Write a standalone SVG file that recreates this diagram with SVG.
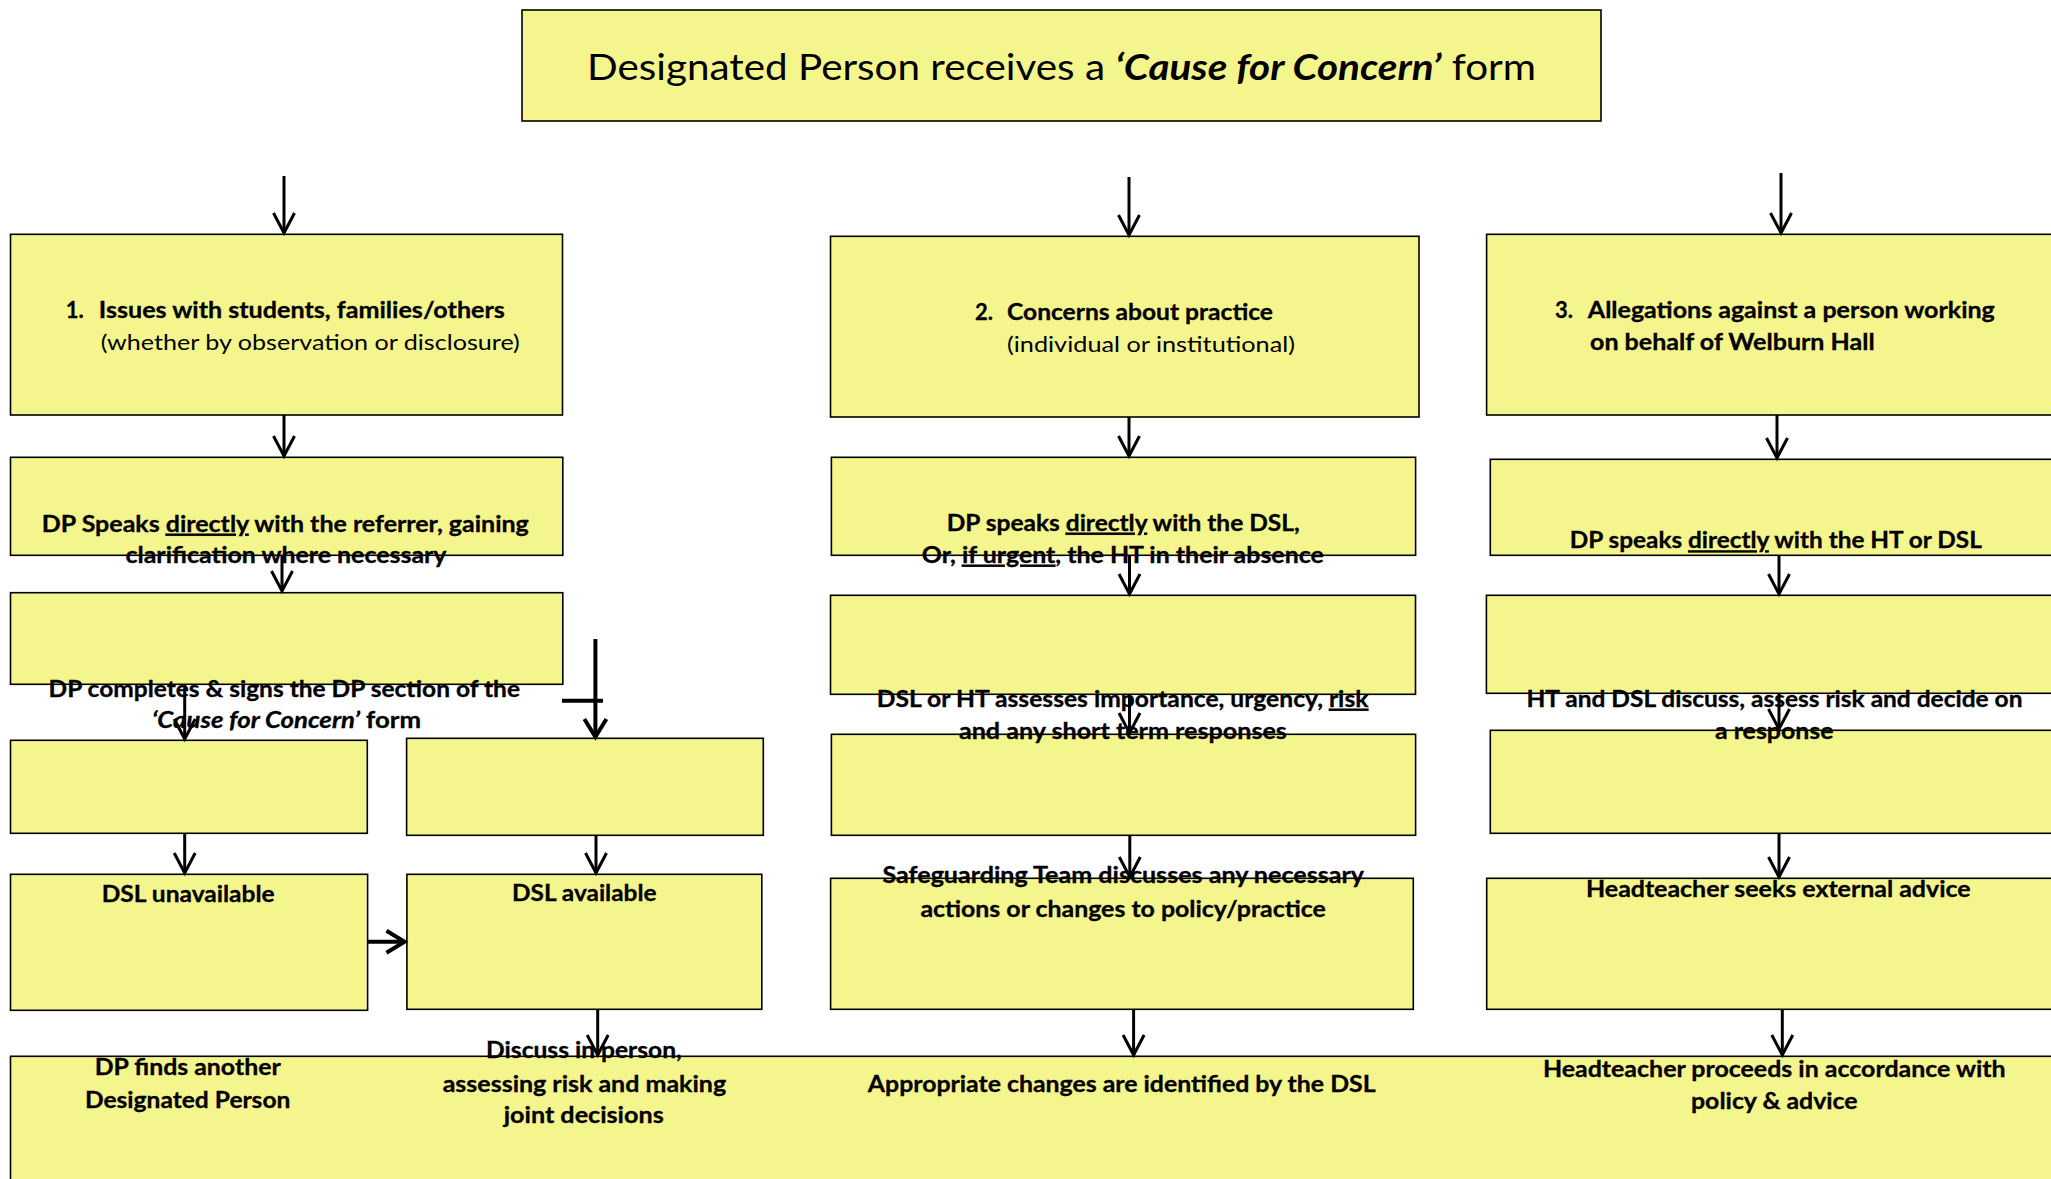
<svg xmlns="http://www.w3.org/2000/svg" width="2051" height="1179" viewBox="0 0 2051 1179">
<style>
.bx{fill:#F5F58E;stroke:#000;stroke-width:1.6}
.t{font-family:Lato,"Open Sans","Liberation Sans",sans-serif;font-size:22px;font-weight:bold;fill:#000;stroke:#000;stroke-width:0.3}
.r{font-weight:normal;stroke-width:0}
.ti{font-family:Lato,"Open Sans","Liberation Sans",sans-serif;font-size:37px;fill:#000}
.bi{font-weight:bold;font-style:italic}
.u{text-decoration:underline}
.c{fill:none;stroke:#000;stroke-width:3}
.ch{fill:none;stroke:#000;stroke-width:4}
</style>
<defs>
<marker id="arr" markerUnits="userSpaceOnUse" markerWidth="34" markerHeight="34" viewBox="-26 -17 34 34" refX="0" refY="0" orient="auto">
<path d="M-20,-10.5 L0,0 L-20,10.5" fill="none" stroke="#000" stroke-width="3"/>
</marker>
<marker id="arrH" markerUnits="userSpaceOnUse" markerWidth="34" markerHeight="34" viewBox="-26 -17 34 34" refX="0" refY="0" orient="auto">
<path d="M-18,-11 L0,0 L-18,11" fill="none" stroke="#000" stroke-width="4"/>
</marker>
</defs>

<g id="bottom-panel"><rect class="bx" x="10.5" y="1056.3" width="2060" height="140"/></g>
<g id="out-dp-finds">
<text class="t" x="94.7" y="1075" textLength="186" lengthAdjust="spacingAndGlyphs">DP finds another</text>
<text class="t" x="84.9" y="1108" textLength="205.5" lengthAdjust="spacingAndGlyphs">Designated Person</text>
</g>
<g id="out-discuss">
<text class="t" x="486.1" y="1058" textLength="195.7" lengthAdjust="spacingAndGlyphs">Discuss in person,</text>
<text class="t" x="442.7" y="1091.7" textLength="283.4" lengthAdjust="spacingAndGlyphs">assessing risk and making</text>
<text class="t" x="503.7" y="1123" textLength="160" lengthAdjust="spacingAndGlyphs">joint decisions</text>
</g>
<g id="out-changes">
<text class="t" x="867.8" y="1092.3" textLength="507.8" lengthAdjust="spacingAndGlyphs">Appropriate changes are identified by the DSL</text>
</g>
<g id="out-ht-proceeds">
<text class="t" x="1542.9" y="1077.3" textLength="462.8" lengthAdjust="spacingAndGlyphs">Headteacher proceeds in accordance with</text>
<text class="t" x="1691" y="1109.3" textLength="166.6" lengthAdjust="spacingAndGlyphs">policy &amp; advice</text>
</g>

<g id="dsl-unavailable">
<rect class="bx" x="10.5" y="874.3" width="357.1" height="136"/>
<text class="t" x="101.7" y="901.7" textLength="173" lengthAdjust="spacingAndGlyphs">DSL unavailable</text>
</g>
<g id="dsl-available">
<rect class="bx" x="406.9" y="874.3" width="354.9" height="135"/>
<text class="t" x="512" y="901" textLength="144.5" lengthAdjust="spacingAndGlyphs">DSL available</text>
</g>
<g id="safeguarding-team">
<rect class="bx" x="830.6" y="878.3" width="582.7" height="131"/>
<text class="t" x="882.5" y="883" textLength="481.5" lengthAdjust="spacingAndGlyphs">Safeguarding Team discusses any necessary</text>
<text class="t" x="920.4" y="916.7" textLength="405.4" lengthAdjust="spacingAndGlyphs">actions or changes to policy/practice</text>
</g>
<g id="ht-external-advice">
<rect class="bx" x="1486.7" y="878.3" width="600" height="131"/>
<text class="t" x="1586" y="896.7" textLength="384.6" lengthAdjust="spacingAndGlyphs">Headteacher seeks external advice</text>
</g>

<g id="c1-row4a"><rect class="bx" x="10.5" y="740.3" width="356.8" height="93"/></g>
<g id="c1-row4b"><rect class="bx" x="406.6" y="738.3" width="356.7" height="97"/></g>
<g id="c2-row4"><rect class="bx" x="831.4" y="734.3" width="584.2" height="101"/></g>
<g id="c3-row4"><rect class="bx" x="1490.3" y="730.3" width="600" height="103"/></g>

<g id="dp-completes">
<rect class="bx" x="10.5" y="592.7" width="552.3" height="91.6"/>
<text class="t" x="48.5" y="696.7" textLength="471.5" lengthAdjust="spacingAndGlyphs">DP completes &amp; signs the DP section of the</text>
<text class="t" x="152" y="728" textLength="269" lengthAdjust="spacingAndGlyphs"><tspan font-style="italic">‘Cause for Concern’</tspan> form</text>
</g>
<g id="dsl-ht-assesses">
<rect class="bx" x="830.5" y="595.3" width="585" height="99"/>
<text class="t" x="876.8" y="706.7" textLength="491.6" lengthAdjust="spacingAndGlyphs">DSL or HT assesses importance, urgency, <tspan class="u">risk</tspan></text>
<text class="t" x="958.9" y="739.3" textLength="328" lengthAdjust="spacingAndGlyphs">and any short term responses</text>
</g>
<g id="ht-dsl-discuss">
<rect class="bx" x="1486.4" y="595.3" width="600" height="98"/>
<text class="t" x="1526.5" y="706.7" textLength="496" lengthAdjust="spacingAndGlyphs">HT and DSL discuss, assess risk and decide on</text>
<text class="t" x="1715" y="739" textLength="118.6" lengthAdjust="spacingAndGlyphs">a response</text>
</g>

<g id="dp-speaks-referrer">
<rect class="bx" x="10.5" y="457.3" width="552.3" height="98"/>
<text class="t" x="41.8" y="531.7" textLength="487" lengthAdjust="spacingAndGlyphs">DP Speaks <tspan class="u">directly</tspan> with the referrer, gaining</text>
<text class="t" x="125.5" y="563" textLength="321" lengthAdjust="spacingAndGlyphs">clarification where necessary</text>
</g>
<g id="dp-speaks-dsl">
<rect class="bx" x="831.4" y="457.3" width="584.2" height="98"/>
<text class="t" x="946.7" y="530.7" textLength="353" lengthAdjust="spacingAndGlyphs">DP speaks <tspan class="u">directly</tspan> with the DSL,</text>
<text class="t" x="921.8" y="562.7" textLength="402" lengthAdjust="spacingAndGlyphs">Or, <tspan class="u">if urgent</tspan>, the HT in their absence</text>
</g>
<g id="dp-speaks-ht">
<rect class="bx" x="1490.3" y="459.3" width="600" height="96"/>
<text class="t" x="1569.8" y="548.3" textLength="412" lengthAdjust="spacingAndGlyphs">DP speaks <tspan class="u">directly</tspan> with the HT or DSL</text>
</g>

<g id="issues-students">
<rect class="bx" x="10.5" y="234.3" width="552" height="180.7"/>
<text class="t" x="65.7" y="318">1.</text>
<text class="t" x="98.8" y="318" textLength="406" lengthAdjust="spacingAndGlyphs">Issues with students, families/others</text>
<text class="t r" x="100.8" y="350" textLength="419" lengthAdjust="spacingAndGlyphs">(whether by observation or disclosure)</text>
</g>
<g id="concerns-practice">
<rect class="bx" x="830.5" y="236.3" width="588.5" height="180.7"/>
<text class="t" x="975" y="320">2.</text>
<text class="t" x="1007" y="320" textLength="266" lengthAdjust="spacingAndGlyphs">Concerns about practice</text>
<text class="t r" x="1007" y="352" textLength="288" lengthAdjust="spacingAndGlyphs">(individual or institutional)</text>
</g>
<g id="allegations">
<rect class="bx" x="1486.6" y="234.3" width="600" height="180.7"/>
<text class="t" x="1555" y="318">3.</text>
<text class="t" x="1587.8" y="318" textLength="407" lengthAdjust="spacingAndGlyphs">Allegations against a person working</text>
<text class="t" x="1590" y="350" textLength="284.7" lengthAdjust="spacingAndGlyphs">on behalf of Welburn Hall</text>
</g>

<g id="title">
<rect class="bx" x="522" y="10" width="1079" height="111"/>
<text class="ti" x="587" y="80" textLength="949" lengthAdjust="spacingAndGlyphs">Designated Person receives a <tspan class="bi">‘Cause for Concern’</tspan> form</text>
</g>

<g id="connectors">
<line class="c" x1="284" y1="176" x2="284" y2="233" marker-end="url(#arr)"/>
<line class="c" x1="1129" y1="177" x2="1129" y2="235" marker-end="url(#arr)"/>
<line class="c" x1="1781" y1="173" x2="1781" y2="233" marker-end="url(#arr)"/>
<line class="c" x1="284" y1="415" x2="284" y2="456" marker-end="url(#arr)"/>
<line class="c" x1="1129" y1="417" x2="1129" y2="456" marker-end="url(#arr)"/>
<line class="c" x1="1777" y1="415" x2="1777" y2="458" marker-end="url(#arr)"/>
<line class="c" x1="282" y1="555" x2="282" y2="591" marker-end="url(#arr)"/>
<line class="c" x1="1129.5" y1="555" x2="1129.5" y2="594" marker-end="url(#arr)"/>
<line class="c" x1="1779" y1="555" x2="1779" y2="594" marker-end="url(#arr)"/>
<line class="c" x1="184.7" y1="684" x2="184.7" y2="739" marker-end="url(#arr)"/>
<line class="ch" x1="595.4" y1="639" x2="595.4" y2="737" marker-end="url(#arrH)"/>
<line class="ch" x1="562" y1="700.7" x2="603" y2="700.7"/>
<line class="c" x1="1129.5" y1="694" x2="1129.5" y2="733" marker-end="url(#arr)"/>
<line class="c" x1="1779" y1="693" x2="1779" y2="729" marker-end="url(#arr)"/>
<line class="c" x1="184.7" y1="833" x2="184.7" y2="873" marker-end="url(#arr)"/>
<line class="c" x1="596" y1="835" x2="596" y2="873" marker-end="url(#arr)"/>
<line class="c" x1="1129.8" y1="835" x2="1129.8" y2="877" marker-end="url(#arr)"/>
<line class="c" x1="1779" y1="833" x2="1779" y2="877" marker-end="url(#arr)"/>
<line class="ch" x1="367.6" y1="941.7" x2="404.5" y2="941.7" marker-end="url(#arrH)"/>
<line class="c" x1="597.7" y1="1009" x2="597.7" y2="1055" marker-end="url(#arr)"/>
<line class="c" x1="1133.6" y1="1009" x2="1133.6" y2="1055" marker-end="url(#arr)"/>
<line class="c" x1="1782.3" y1="1009" x2="1782.3" y2="1055" marker-end="url(#arr)"/>
</g>
</svg>
